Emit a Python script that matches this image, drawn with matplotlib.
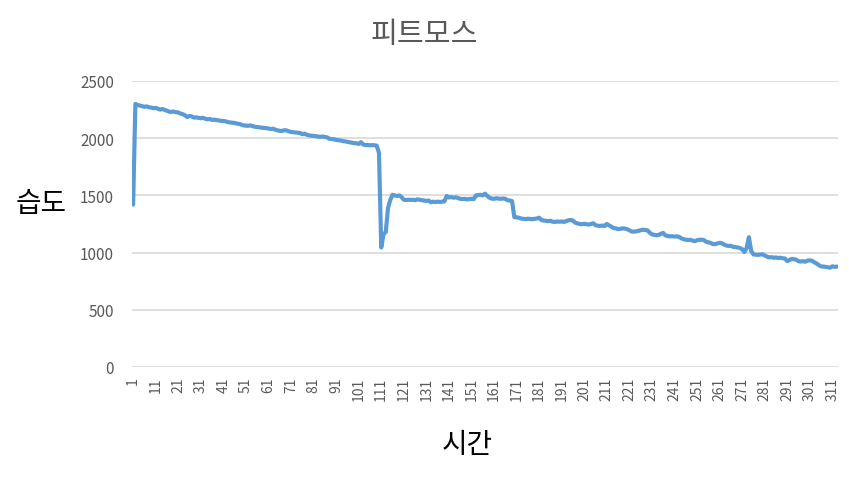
import numpy as np
import matplotlib
matplotlib.use("Agg")
import matplotlib.pyplot as plt

plt.rcParams['font.family'] = ['Noto Sans CJK KR', 'DejaVu Sans']

title = "피트모스"
x_label = "시간"
y_label = "습도"

# humidity readings, one per time step
humidity = [
    1420, 2300, 2290, 2285, 2280, 2275, 2278, 2270, 2268, 2262,
    2265, 2258, 2250, 2255, 2248, 2240, 2232, 2230, 2233, 2228,
    2225, 2215, 2210, 2200, 2185, 2195, 2190, 2180, 2182, 2178,
    2175, 2178, 2170, 2165, 2168, 2160, 2162, 2158, 2155, 2152,
    2150, 2148, 2140, 2138, 2135, 2133, 2128, 2125, 2118, 2112,
    2110, 2108, 2112, 2105, 2100, 2098, 2095, 2092, 2090, 2088,
    2085, 2080, 2083, 2075, 2068, 2065, 2063, 2070, 2068, 2060,
    2055, 2052, 2050, 2048, 2045, 2035, 2040, 2030, 2025, 2022,
    2020, 2018, 2015, 2012, 2015, 2010, 2008, 1995, 1993, 1990,
    1985, 1982, 1980, 1975, 1972, 1968, 1965, 1960, 1958, 1955,
    1950, 1965, 1945, 1940, 1940, 1938, 1940, 1938, 1935, 1870,
    1045, 1160, 1180, 1390, 1460, 1505, 1500, 1495, 1500, 1485,
    1462, 1460, 1462, 1460, 1462, 1458, 1465, 1462, 1458, 1455,
    1452, 1455, 1440, 1445, 1442, 1445, 1443, 1445, 1448, 1495,
    1482, 1485, 1480, 1483, 1478, 1470, 1468, 1470, 1465, 1468,
    1470, 1468, 1500, 1503, 1505, 1500, 1515, 1495, 1480, 1472,
    1470, 1475, 1472, 1470, 1473, 1470, 1458, 1455, 1450, 1310,
    1308, 1305, 1298, 1295, 1293, 1296, 1294, 1292, 1295, 1298,
    1305, 1285, 1280, 1278, 1275, 1278, 1270, 1268, 1272, 1270,
    1272, 1268, 1275, 1282, 1285, 1280, 1262, 1255, 1250, 1248,
    1252, 1248, 1245, 1250, 1256, 1240, 1235, 1233, 1236, 1232,
    1250, 1238, 1225, 1215, 1212, 1205, 1208, 1212, 1210, 1205,
    1195, 1185, 1183, 1185, 1190, 1195, 1200, 1198, 1195, 1175,
    1160, 1155, 1152, 1155, 1165, 1172, 1150, 1145, 1142, 1143,
    1140, 1142, 1138, 1125, 1118, 1113, 1110, 1112, 1105, 1100,
    1108, 1112, 1113, 1110, 1095, 1090, 1085, 1075, 1073, 1080,
    1085, 1082, 1070, 1062, 1058, 1060, 1050, 1048, 1045, 1040,
    1030, 1005, 1040, 1135, 1015, 985, 982, 980, 983, 985,
    975, 965, 958, 960, 955, 958, 952, 955, 950, 948,
    925, 935, 945, 942, 938, 925, 922, 925, 920, 930,
    932, 928, 915, 905, 890, 880, 878, 875, 872, 868,
    880, 875, 878,
]
time_steps = np.arange(1, len(humidity) + 1)
x_ticks = list(range(1, len(humidity) + 1, 10))
y_ticks = [0, 500, 1000, 1500, 2000, 2500]

fig = plt.figure(figsize=(8.49, 4.81), dpi=100)
ax = fig.add_axes([132 / 849, 1 - 368 / 481, (838 - 132) / 849, (368 - 82) / 481])

ax.plot(time_steps, humidity, color="#5B9BD5", linewidth=3,
        solid_joinstyle="round", solid_capstyle="round", zorder=3)

ax.set_xlim(0.5, len(humidity) + 0.5)
ax.set_ylim(0, 2500)
ax.set_yticks(y_ticks)
ax.set_xticks(x_ticks)
ax.set_xticklabels([str(t) for t in x_ticks], rotation=90)
ax.tick_params(axis="x", length=0, pad=7, labelsize=10, labelcolor="#595959")
ax.tick_params(axis="y", length=0, pad=13, labelsize=11, labelcolor="#595959")

ax.grid(axis="y", color="#D9D9D9", linewidth=1.2)
ax.set_axisbelow(True)
for s in ax.spines.values():
    s.set_visible(False)

fig.text(424 / 849, 1 - 35 / 481, title, ha="center", va="center",
         fontsize=21, color="#595959")
fig.text(41 / 849, 1 - 204 / 481, y_label, ha="center", va="center",
         fontsize=20, color="black")
fig.text(467 / 849, 1 - 445 / 481, x_label, ha="center", va="center",
         fontsize=20, color="black")

fig.savefig("out.png", dpi=100)
